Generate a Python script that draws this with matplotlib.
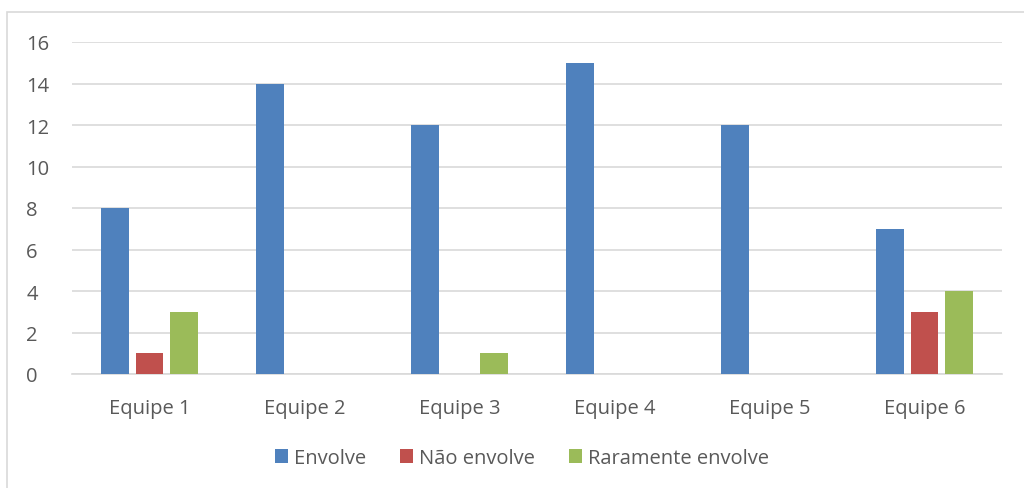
import matplotlib.pyplot as plt
import numpy as np
from matplotlib.patches import Rectangle

plt.rcParams['font.family'] = ['Open Sans', 'DejaVu Sans']

equipes = ["Equipe 1", "Equipe 2", "Equipe 3", "Equipe 4", "Equipe 5", "Equipe 6"]
envolve = [8, 14, 12, 15, 12, 7]
nao_envolve = [1, 0, 0, 0, 0, 3]
raramente = [3, 0, 1, 0, 0, 4]

series = [("Envolve", envolve, "#4F81BD"),
          ("Não envolve", nao_envolve, "#C0504D"),
          ("Raramente envolve", raramente, "#9BBB59")]

txt = "#595959"
fig = plt.figure(figsize=(10.24, 4.89), dpi=100)
fig.patches.append(Rectangle((7 / 1024, -0.1), 1.2, 1 - 13 / 489 + 0.1, transform=fig.transFigure,
                             fill=False, edgecolor="#D9D9D9", linewidth=1.2))
ax = fig.add_axes([72 / 1024, 1 - 375 / 489, 930 / 1024, 332 / 489])

x = np.arange(len(equipes))
w = 0.18
step = 0.22
for i, (name, vals, col) in enumerate(series):
    ax.bar(x + (i - 1) * step, vals, w, color=col, label=name, zorder=3)

ax.set_xlim(-0.5, len(equipes) - 0.5)
ax.set_ylim(0, 16)
ax.set_yticks(range(0, 17, 2))
ax.set_xticks(x)
ax.set_xticklabels(equipes)
ax.grid(axis="y", color="#D9D9D9", linewidth=1.2, zorder=0)
for s in ["top", "right", "left"]:
    ax.spines[s].set_visible(False)
ax.spines["bottom"].set_color("#D9D9D9")
ax.spines["bottom"].set_linewidth(1.2)
ax.tick_params(length=0, labelsize=14.5, colors=txt)
ax.tick_params(axis="x", pad=17)
ax.tick_params(axis="y", pad=33)
for t in ax.get_yticklabels():
    t.set_horizontalalignment("left")

leg = fig.legend(loc="center", bbox_to_anchor=(522 / 1024, 1 - 459 / 489), ncol=3, frameon=False,
                 fontsize=14.5, handlelength=0.65, handleheight=0.65, handletextpad=0.3, columnspacing=1.7)
for t in leg.get_texts():
    t.set_color(txt)

fig.savefig("out.png", dpi=100)
